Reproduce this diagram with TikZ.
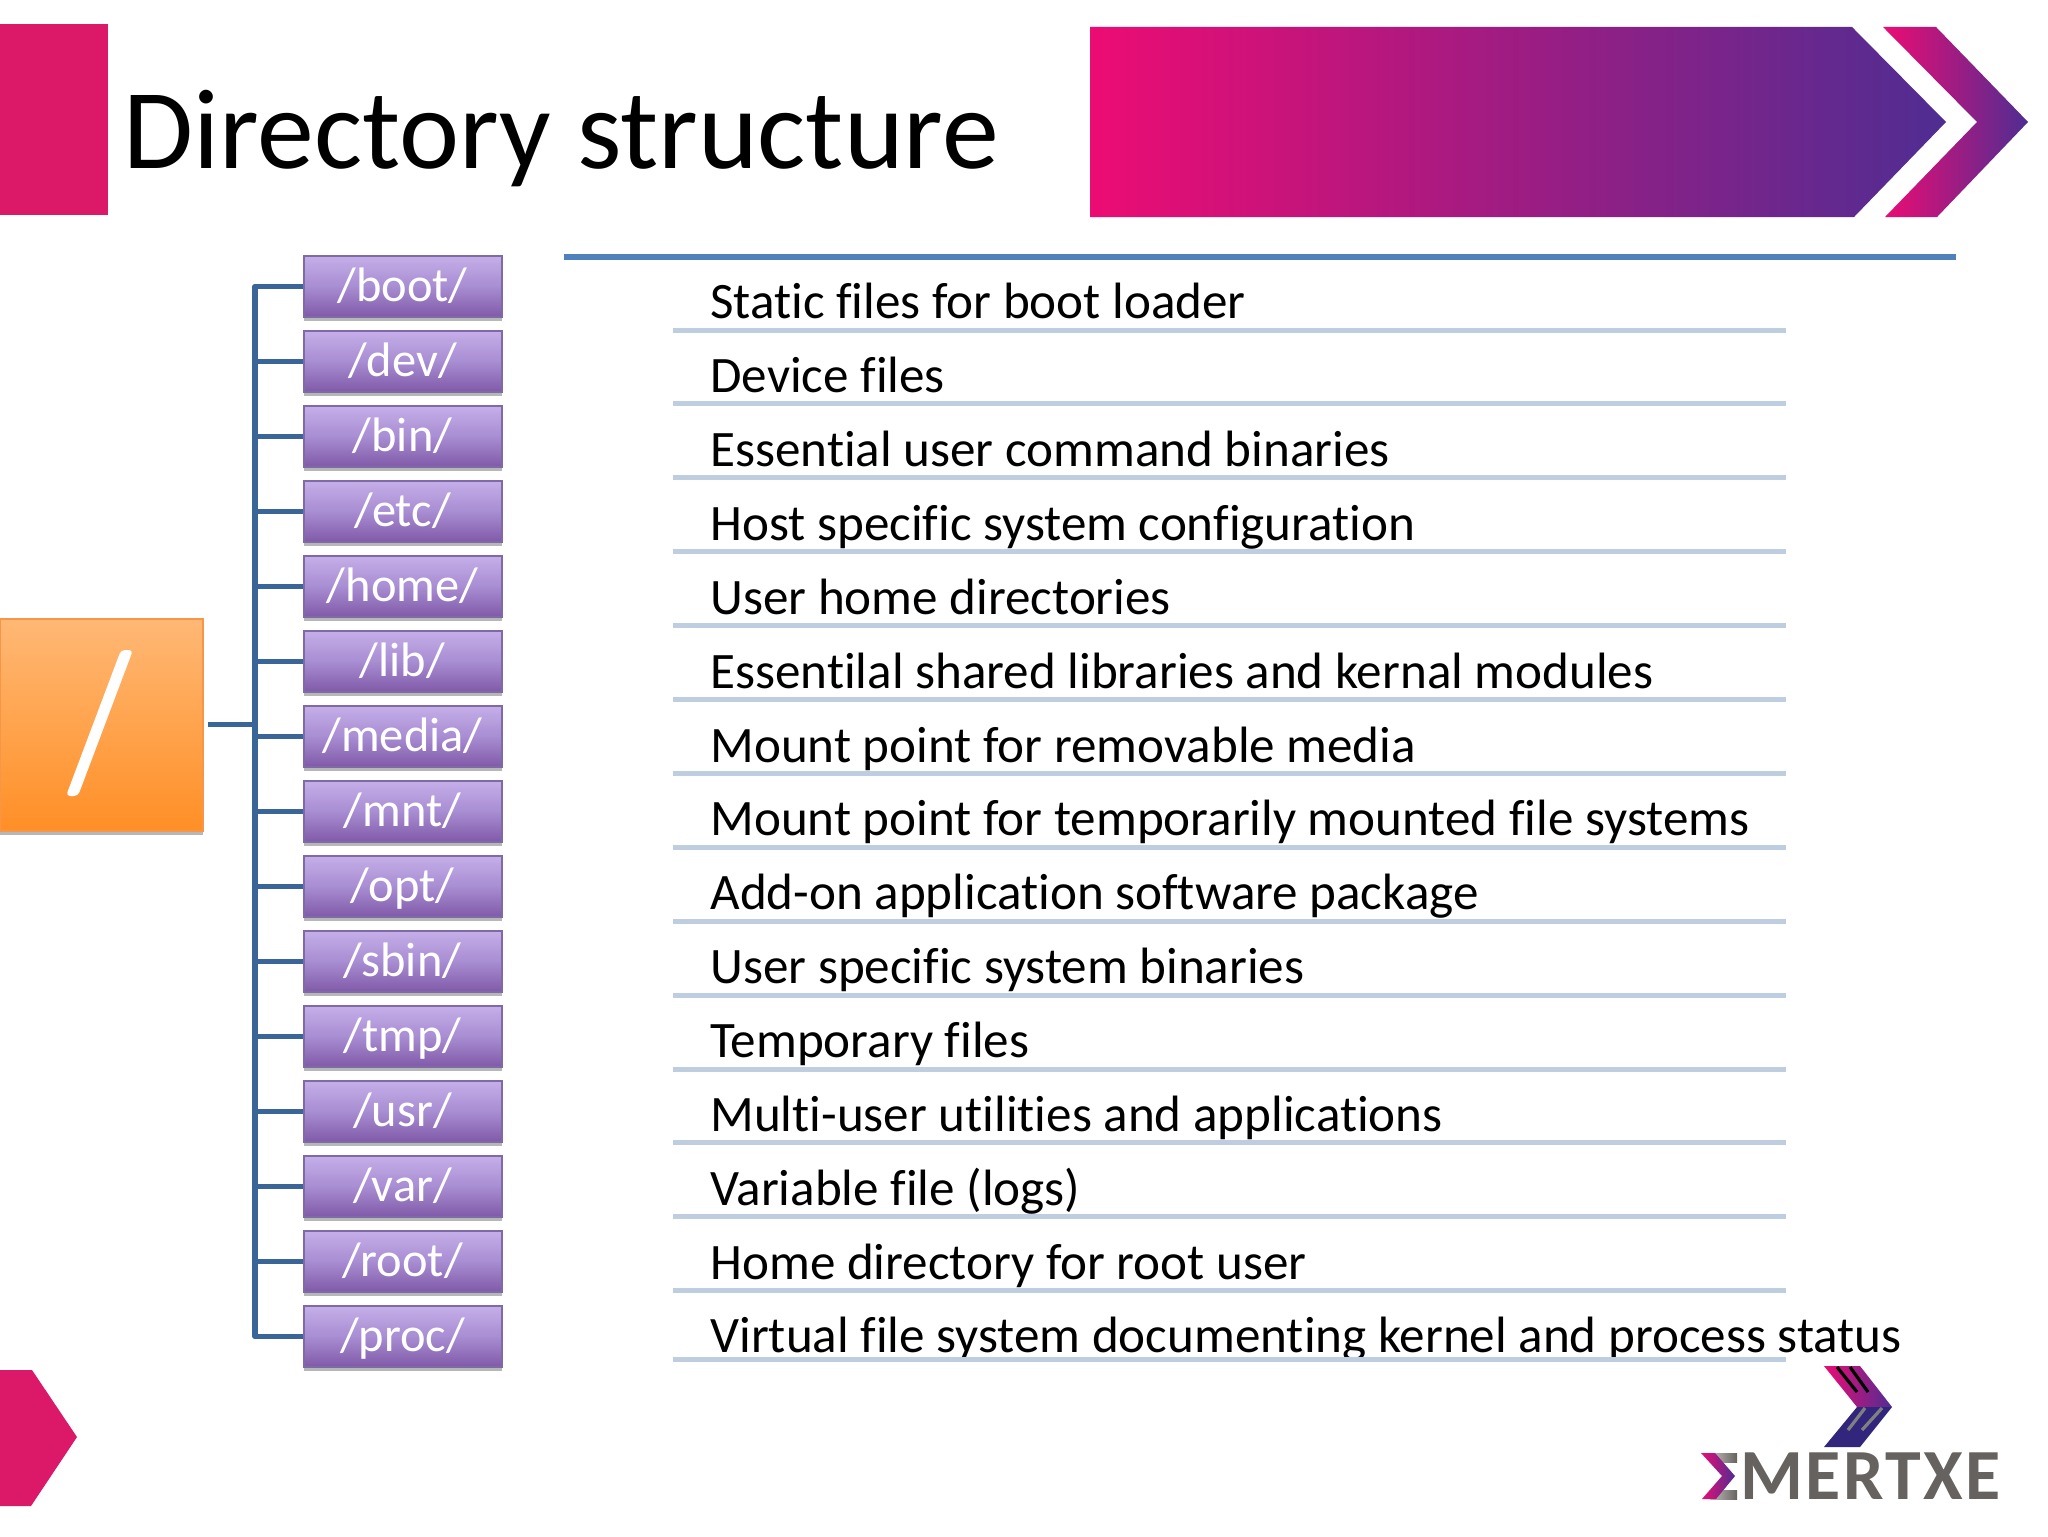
\documentclass[tikz,border=0pt]{standalone}
\usepackage{fontspec}
\setmainfont[Ligatures=NoCommon]{Carlito}
\usetikzlibrary{shadows,fadings}
\definecolor{tree}{HTML}{3A6598}
\definecolor{rule}{HTML}{4F81BD}
\definecolor{sep}{HTML}{BFCDE0}
\definecolor{pinkc}{HTML}{DC1868}
\definecolor{magc}{HTML}{EC0C73}
\definecolor{purc}{HTML}{4F2D92}
\definecolor{navyc}{HTML}{31267C}
\definecolor{greyc}{HTML}{66625F}
\definecolor{boxtop}{HTML}{C5AEE8}
\definecolor{boxmid}{HTML}{A88DD2}
\definecolor{boxbot}{HTML}{8059A8}
\definecolor{boxedge}{HTML}{7E6AA6}
\definecolor{roottop}{HTML}{FFB875}
\definecolor{rootbot}{HTML}{FF8F26}
\definecolor{rootedge}{HTML}{F79646}
\tikzset{
 x=0.5pt,y=-0.5pt,
 dirbox/.style={draw=boxedge,line width=1pt,top color=boxtop,bottom color=boxbot,middle color=boxmid,minimum width=99pt,minimum height=30.5pt,inner sep=0pt,text height=16.6pt,text depth=1.7pt,text=white,font=\fontsize{24.2pt}{26pt}\selectfont,drop shadow={shadow xshift=0pt,shadow yshift=-2pt,opacity=.4,fill=black!70}},
 rootbox/.style={draw=rootedge,line width=.8pt,top color=roottop,bottom color=rootbot,minimum width=101.5pt,minimum height=106pt,inner sep=0pt,drop shadow={shadow xshift=0pt,shadow yshift=-2pt,opacity=.4,fill=black!70}},
 treeline/.style={draw=tree,line width=2.8pt},
 sepline/.style={draw=sep,line width=2.5pt},
 desc/.style={anchor=base west,inner sep=0pt,font=\fontsize{25.55pt}{27pt}\selectfont,text=black},
}
\begin{document}
\begin{tikzpicture}
\useasboundingbox (0,0) rectangle (2048,1536);
\fill[white] (0,0) rectangle (2048,1536);
% header
\fill[pinkc] (0,24) rectangle (108,215);
\node[anchor=base west,inner sep=0pt,font=\fontsize{56.9pt}{60pt}\selectfont] (title) at (123,168) {Directory structure};
\shade[left color=magc,right color=purc] (1090,27) -- (1852,27) -- (1946,122) -- (1854,217) -- (1090,217) -- cycle;
\shade[left color=magc,right color=purc] (1883,27) -- (1936,27) -- (2028,122) -- (1937,217) -- (1885,217) -- (1977,122) -- cycle;
\fill[pinkc] (0,1370) -- (32,1370) -- (77,1437) -- (31,1506) -- (0,1506) -- cycle;
% rule
\draw[rule,line width=3pt] (564,256.7) -- (1956,256.7);
% root
\node[rootbox] (root) at (101.5,725) {};
\fill[white,rounded corners=2pt] (121,650) -- (133,650) -- (78,796) -- (66,796) -- cycle;
% tree
\coordinate (trunk) at (255,724.5);
\coordinate (rootout) at (208,724.5);
\draw[treeline] (rootout) -- (trunk);
\foreach \n/\t [count=\i from 0] in {a/boot,b/dev,c/bin,d/etc,e/home,f/lib,g/media,h/mnt,i/opt,j/sbin,k/tmp,l/usr,m/var,n/root,o/proc}{
  \node[dirbox] (\n) at (402.5,286.5+75*\i) {/\t/};
}
\draw[treeline,line join=round] (a.west) -| (trunk) |- (o.west);
\foreach \n in {b,c,d,e,f,g,h,i,j,k,l,m,n}{
  \draw[treeline] (\n.west) -- (\n.west -| trunk);
}
% list
\foreach \t [count=\i from 0] in {Static files for boot loader,Device files,Essential user command binaries,Host specific system configuration,User home directories,Essentilal shared libraries and kernal modules,Mount point for removable media,Mount point for temporarily mounted file systems,Add-on application software package,User specific system binaries,Temporary files,Multi-user utilities and applications,Variable file (logs),Home directory for root user}{
  \node[desc] (t\i) at (710,318.6+73.9*\i) {\t};
  \draw[sepline] (673,330+73.9*\i) -- (1786,330+73.9*\i);
}
\begin{scope}
\clip (700,1300) rectangle (1950,1358);
\node[desc] (t14) at (710,1352.6) {Virtual file system documenting kernel and process status};
\end{scope}
\draw[sepline] (673,1359.5) -- (1786,1359.5);
% logo
\shade[left color=magc,right color=purc] (1824,1366) -- (1860,1366) -- (1892,1407) -- (1857,1407) -- cycle;
\fill[navyc] (1824,1447) -- (1860,1447) -- (1892,1407) -- (1857,1407) -- cycle;
\draw[black,line width=1.6pt] (1837,1367) -- (1857,1392) (1850,1367) -- (1868,1392);
\draw[gray,line width=1.6pt] (1865,1408) -- (1848,1430) (1882,1408) -- (1862,1430);
\shade[left color=greyc!40,right color=greyc] (1710,1453) rectangle (1737,1462);
\shade[left color=greyc!40,right color=greyc] (1710,1490) rectangle (1737,1499);
\shade[left color=magc,right color=purc] (1701,1453) -- (1715,1453) -- (1735,1476) -- (1716,1499) -- (1702,1499) -- (1722,1476) -- cycle;
\node[anchor=base west,inner sep=0pt,text=greyc,font=\fontsize{36pt}{38pt}\selectfont\bfseries\addfontfeature{LetterSpace=3.2}] (logo) at (1740,1499) {MERTXE};
\end{tikzpicture}
\end{document}
